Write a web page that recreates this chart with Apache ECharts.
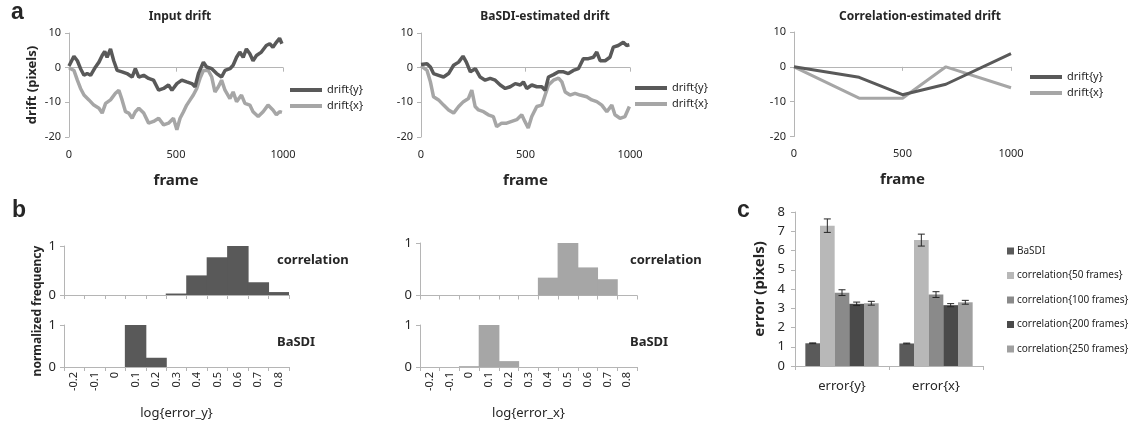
<!DOCTYPE html>
<html><head><meta charset="utf-8">
<script src="https://cdn.jsdelivr.net/npm/echarts@6/dist/echarts.min.js"></script>
<style>html,body{margin:0;padding:0;background:#fff}#c{width:1134px;height:424px}</style>
</head><body><div id="c"></div>
<script>
// ---------- DATA ----------
// Panel a: [frame, drift in pixels]
const inputDriftY = [[0,0.5],[23,3.3],[39,2],[54,-0.3],[70,-2.2],[85,-1.7],[101,-2.2],[124,0.2],[140,1.6],[155,3.5],[167,4.7],[178,3],[194,5.4],[209,2],[225,-0.8],[248,-1.2],[271,-1.7],[295,-2.7],[310,-0.3],[326,-2.7],[349,-2.2],[372,-3.1],[395,-3.6],[419,-6.5],[442,-6],[465,-5],[481,-6.5],[504,-4.6],[527,-3.6],[550,-4.1],[574,-4.6],[589,-5.5],[605,-1.7],[628,1.6],[643,0.2],[667,-0.3],[690,-1.7],[713,-2.7],[729,-0.8],[752,-0.3],[767,0.7],[783,3],[798,4.5],[814,3],[829,5.4],[845,4],[860,2],[876,3.5],[899,4.5],[922,6.4],[938,6.9],[953,5.9],[969,7.3],[984,8.5],[995,6.9]];
const inputDriftX = [[0,0],[23,-0.8],[39,-3.6],[54,-6],[70,-7.9],[93,-9.3],[116,-10.8],[140,-11.7],[155,-13.1],[171,-10.3],[194,-9.3],[217,-7.4],[233,-6.5],[248,-9.3],[264,-12.7],[279,-13.1],[295,-14.6],[310,-12.7],[326,-11.7],[349,-13.1],[372,-16],[395,-15.5],[419,-14.6],[442,-16.5],[465,-16],[488,-14.6],[504,-17.9],[519,-14.6],[535,-12.7],[550,-10.8],[566,-9.3],[581,-7.9],[597,-6],[612,-3.1],[628,-0.8],[651,-0.8],[667,-2.7],[682,-7],[698,-5.5],[713,-3.6],[729,-6.5],[752,-8.9],[767,-7],[783,-9.8],[806,-7.9],[822,-10.3],[845,-10.8],[860,-12.7],[884,-14.1],[907,-12.7],[930,-10.8],[953,-12.2],[969,-13.6],[984,-12.7],[995,-12.9]];
const basdiDriftY = [[0,0.9],[29,1.1],[45,0.2],[60,-1.7],[84,-2.2],[108,-2.7],[132,-1.7],[156,0.7],[180,1.6],[201,3.3],[217,1.6],[236,-1.2],[260,-0.3],[283,-2.7],[307,-3.6],[331,-3.1],[355,-3.6],[379,-5],[403,-6],[427,-5.5],[451,-4.6],[475,-5],[490,-4.1],[506,-6],[530,-5],[554,-5.5],[578,-5.5],[594,-6.5],[610,-2.7],[634,-2],[658,-1.2],[682,-1.2],[705,-1.7],[729,-0.8],[753,-0.3],[777,2.6],[801,2.6],[825,3],[841,4.5],[857,2],[881,2],[904,3],[920,5.9],[944,6.4],[968,7.3],[984,6.4],[997,6.6]];
const basdiDriftX = [[0,0.5],[29,-0.8],[45,-4.1],[60,-8.4],[84,-9.3],[108,-10.8],[132,-12.2],[156,-13.1],[180,-11.2],[203,-9.8],[227,-8.9],[243,-6.5],[259,-11.2],[275,-12.2],[299,-12.7],[322,-13.6],[346,-14.1],[362,-17],[386,-16],[410,-16],[434,-15.5],[458,-15],[482,-13.6],[497,-15.5],[513,-17.4],[530,-14.1],[554,-11.2],[578,-10.8],[594,-7.9],[610,-5],[634,-3.6],[658,-3],[674,-4.1],[690,-7],[713,-7.9],[737,-7.4],[761,-7.9],[793,-8.4],[817,-9.3],[841,-9.8],[865,-10.8],[889,-12.7],[913,-10.8],[928,-13.6],[952,-14.6],[976,-14.1],[997,-11.2]];
const corrDriftY = [[0,0],[300,-3],[500,-8],[700,-5],[1000,3.8]];
const corrDriftX = [[0,0],[300,-9],[500,-9],[700,0],[1000,-6]];
const driftTicks = {min:0, max:1000, interval:500, ymin:-20, ymax:10, yinterval:10};

// Panel b: histogram bins (log error) and normalized frequencies
const histCats = ['-0.2','-0.1','0','0.1','0.2','0.3','0.4','0.5','0.6','0.7','0.8'];
const histCorrY  = [0,0,0,0,0,0.03,0.40,0.77,1.0,0.26,0.06];
const histBasdiY = [0,0,0,1.0,0.22,0,0,0,0,0,0];
const histCorrX  = [0,0,0,0,0,0,0.34,1.0,0.535,0.31,0];
const histBasdiX = [0,0,0.02,1.0,0.14,0,0,0,0,0,0];

// Panel c: mean error (pixels) and error bars for [error{y}, error{x}]
const errCats = ['error{y}','error{x}'];
const errNames = ['BaSDI','correlation{50 frames}','correlation{100 frames}','correlation{200 frames}','correlation{250 frames}'];
const errBasdi   = [1.18, 1.17];  const errBasdiSd   = [0.02, 0.02];
const errCorr50  = [7.29, 6.54];  const errCorr50Sd  = [0.35, 0.31];
const errCorr100 = [3.81, 3.71];  const errCorr100Sd = [0.15, 0.15];
const errCorr200 = [3.23, 3.16];  const errCorr200Sd = [0.09, 0.08];
const errCorr250 = [3.26, 3.31];  const errCorr250Sd = [0.10, 0.10];

// ---------- STYLE ----------
const FONT = '"Noto Sans", sans-serif';
const DARK = '#595959', LIGHT = '#a6a6a6', AXIS = '#b5b5b5', TEXT = '#262626';
const errColors = ['#5a5a5a','#b8b8b8','#8a8a8a','#4a4a4a','#a0a0a0'];
const GAP = 0.22;

const grids = [
  {left:69,  top:33,  width:214, height:104},   // a1
  {left:421, top:33,  width:209, height:104},   // a2
  {left:794, top:32,  width:217, height:104.5}, // a3
  {left:64,  top:246, width:225, height:49},    // b1 top
  {left:64,  top:325, width:225, height:42},    // b1 bottom
  {left:420, top:243, width:217, height:52.5},  // b2 top
  {left:420, top:325, width:217, height:42},    // b2 bottom
  {left:795, top:212, width:188, height:154}    // c
].map(g => Object.assign({outerBoundsMode:'none', containLabel:false}, g));

const xAxes = [], yAxes = [];
function driftAxes(gi, yName) {
  xAxes.push({type:'value', gridIndex:gi, min:driftTicks.min, max:driftTicks.max, interval:driftTicks.interval, position:'bottom',
    axisLine:{show:false,onZero:false}, axisTick:{show:false}, splitLine:{show:false},
    axisLabel:{fontSize:11,color:TEXT,margin:12,fontFamily:FONT,formatter:v => String(v)},
    name:'frame', nameLocation:'middle', nameGap:36,
    nameTextStyle:{fontWeight:'bold',fontSize:15,color:TEXT,fontFamily:FONT}});
  xAxes.push({type:'value', gridIndex:gi, min:driftTicks.min, max:driftTicks.max, interval:driftTicks.interval, position:'bottom',
    axisLine:{show:true,onZero:true,lineStyle:{color:AXIS,width:1}},
    axisTick:{show:true,length:4,lineStyle:{color:AXIS}}, axisLabel:{show:false}, splitLine:{show:false}});
  const y = {type:'value', gridIndex:gi, min:driftTicks.ymin, max:driftTicks.ymax, interval:driftTicks.yinterval,
    axisLine:{show:true,onZero:false,lineStyle:{color:AXIS}}, axisTick:{show:true,length:4,lineStyle:{color:AXIS}},
    splitLine:{show:false}, axisLabel:{fontSize:11,color:TEXT,margin:8,fontFamily:FONT}};
  if (yName) Object.assign(y, {name:yName, nameLocation:'middle', nameRotate:90, nameGap:30,
    nameTextStyle:{fontWeight:'bold',fontSize:13,color:TEXT,fontFamily:FONT}});
  yAxes.push(y);
}
driftAxes(0, 'drift (pixels)');
driftAxes(1, null);
driftAxes(2, null);

function histAxes(gi, showLabels, name) {
  const x = {type:'category', gridIndex:gi, data:histCats, boundaryGap:true,
    axisLine:{show:true,onZero:false,lineStyle:{color:AXIS}},
    axisTick:{show:true,length:4,interval:0,alignWithLabel:false,lineStyle:{color:AXIS}},
    axisLabel:{show:showLabels,rotate:90,interval:0,fontSize:11,color:TEXT,margin:5,fontFamily:FONT},
    splitLine:{show:false}};
  if (name) Object.assign(x, {name:name, nameLocation:'middle', nameGap:40,
    nameTextStyle:{fontSize:13,color:TEXT,fontFamily:FONT}});
  xAxes.push(x);
  yAxes.push({type:'value', gridIndex:gi, min:0, max:1, interval:1,
    axisLine:{show:true,onZero:false,lineStyle:{color:AXIS}}, axisTick:{show:true,length:4,lineStyle:{color:AXIS}},
    splitLine:{show:false}, axisLabel:{fontSize:13,color:TEXT,margin:8,fontFamily:FONT}});
}
histAxes(3, false, null);
histAxes(4, true, 'log{error_y}');
histAxes(5, false, null);
histAxes(6, true, 'log{error_x}');

xAxes.push({type:'category', gridIndex:7, data:errCats, boundaryGap:true,
  axisLine:{show:true,onZero:false,lineStyle:{color:AXIS}},
  axisTick:{show:true,length:4,interval:0,lineStyle:{color:AXIS}},
  axisLabel:{fontSize:13,color:TEXT,margin:14,fontFamily:FONT}, splitLine:{show:false}});
yAxes.push({type:'value', gridIndex:7, min:0, max:8, interval:1,
  axisLine:{show:true,onZero:false,lineStyle:{color:AXIS}}, axisTick:{show:true,length:4,lineStyle:{color:AXIS}},
  splitLine:{show:false}, axisLabel:{fontSize:13,color:TEXT,margin:10,fontFamily:FONT},
  name:'error (pixels)', nameLocation:'middle', nameRotate:90, nameGap:28,
  nameTextStyle:{fontWeight:'bold',fontSize:15,color:TEXT,fontFamily:FONT}});

// ---------- SERIES ----------
const series = [];
function driftLine(xi, yi, name, data, color, w) {
  series.push({type:'line', name:name, xAxisIndex:xi, yAxisIndex:yi, data:data, showSymbol:false, symbol:'none',
    color:color, itemStyle:{color:color}, lineStyle:{color:color,width:w}, silent:true, animation:false});
}
driftLine(0, 0, 'drift{x}', inputDriftX, LIGHT, 3.5);
driftLine(0, 0, 'drift{y}', inputDriftY, DARK, 3.5);
driftLine(2, 1, 'drift{x}', basdiDriftX, LIGHT, 3.5);
driftLine(2, 1, 'drift{y}', basdiDriftY, DARK, 3.5);
driftLine(4, 2, 'drift{x}', corrDriftX, LIGHT, 3);
driftLine(4, 2, 'drift{y}', corrDriftY, DARK, 3);

function hist(xi, yi, data, color) {
  // slightly wider than the band so neighbouring bins overlap and no seam shows
  series.push({type:'bar', name:'hist'+xi, xAxisIndex:xi, yAxisIndex:yi, data:data, barWidth:'105%',
    itemStyle:{color:color}, silent:true, animation:false});
}
hist(6, 3, histCorrY, DARK);
hist(7, 4, histBasdiY, DARK);
hist(8, 5, histCorrX, LIGHT);
hist(9, 6, histBasdiX, LIGHT);

const errValues = [errBasdi, errCorr50, errCorr100, errCorr200, errCorr250];
const errSds = [errBasdiSd, errCorr50Sd, errCorr100Sd, errCorr200Sd, errCorr250Sd];
errValues.forEach((vals, s) => {
  series.push({type:'bar', name:errNames[s], xAxisIndex:10, yAxisIndex:7, data:vals,
    barGap:'0%', barCategoryGap:(GAP*100)+'%', color:errColors[s], itemStyle:{color:errColors[s]}, silent:true, animation:false});
});
const errBarData = [];
errValues.forEach((vals, s) => vals.forEach((v, c) => errBarData.push([c, v, errSds[s][c], s])));
series.push({type:'custom', name:'errorbars', xAxisIndex:10, yAxisIndex:7, data:errBarData, silent:true, animation:false, z:5,
  encode:{x:0, y:1},
  renderItem: function(params, api) {
    const c = api.value(0), v = api.value(1), e = api.value(2), s = api.value(3);
    const band = api.size([1, 0])[0];
    const groupW = band * (1 - GAP);
    const bw = groupW / errValues.length;
    const x = api.coord([c, v])[0] - groupW / 2 + bw * (s + 0.5);
    const y1 = api.coord([c, v + e])[1], y2 = api.coord([c, v - e])[1];
    const h = 3.5, st = {stroke:'#262626', lineWidth:1};
    return {type:'group', children:[
      {type:'line', shape:{x1:x,y1:y1,x2:x,y2:y2}, style:st},
      {type:'line', shape:{x1:x-h,y1:y1,x2:x+h,y2:y1}, style:st},
      {type:'line', shape:{x1:x-h,y1:y2,x2:x+h,y2:y2}, style:st}]};
  }});

// ---------- LEGENDS ----------
function driftLegend(left, top) {
  return {orient:'vertical', left:left, top:top, icon:'rect', itemWidth:32, itemHeight:4, itemGap:2,
    selectedMode:false, data:['drift{y}','drift{x}'], padding:0,
    textStyle:{fontSize:11, color:TEXT, lineHeight:14, fontFamily:FONT}};
}
const legends = [driftLegend(290, 83), driftLegend(635, 81), driftLegend(1030, 70),
  {orient:'vertical', left:1007, top:244, icon:'rect', itemWidth:7, itemHeight:7, itemGap:10.5, selectedMode:false,
   data:errNames, padding:0, textStyle:{fontSize:10, color:TEXT, lineHeight:14, fontFamily:FONT, padding:[0,0,0,-2]}}];

// ---------- TEXT ----------
function txt(text, x, y, font, align, rot) {
  return {type:'text', x:x, y:y, rotation:rot||0, silent:true,
    style:{text:text, font:font, fill:TEXT, textAlign:align||'center', textVerticalAlign:'middle'}};
}
const graphics = [
  txt('a', 11, 13, 'bold 23px "Liberation Sans", Arial, sans-serif', 'left'),
  txt('b', 12, 211, 'bold 23px "Liberation Sans", Arial, sans-serif', 'left'),
  txt('c', 737, 211, 'bold 23px "Liberation Sans", Arial, sans-serif', 'left'),
  txt('Input drift', 180, 17, 'bold 12px ' + FONT),
  txt('BaSDI-estimated drift', 545, 17, 'bold 12px ' + FONT),
  txt('Correlation-estimated drift', 920, 17, 'bold 12px ' + FONT),
  txt('correlation', 277, 260, 'bold 13px ' + FONT, 'left'),
  txt('BaSDI', 277, 342, 'bold 13px ' + FONT, 'left'),
  txt('correlation', 630, 260, 'bold 13px ' + FONT, 'left'),
  txt('BaSDI', 630, 342, 'bold 13px ' + FONT, 'left'),
  txt('normalized frequency', 38, 311, 'bold 12px ' + FONT, 'center', Math.PI / 2)
];

const chart = echarts.init(document.getElementById('c'), null, {renderer:'canvas'});
chart.setOption({
  backgroundColor:'#ffffff',
  animation:false,
  textStyle:{fontFamily:FONT},
  grid:grids, xAxis:xAxes, yAxis:yAxes, series:series, legend:legends, graphic:graphics
});
</script>
</body></html>
